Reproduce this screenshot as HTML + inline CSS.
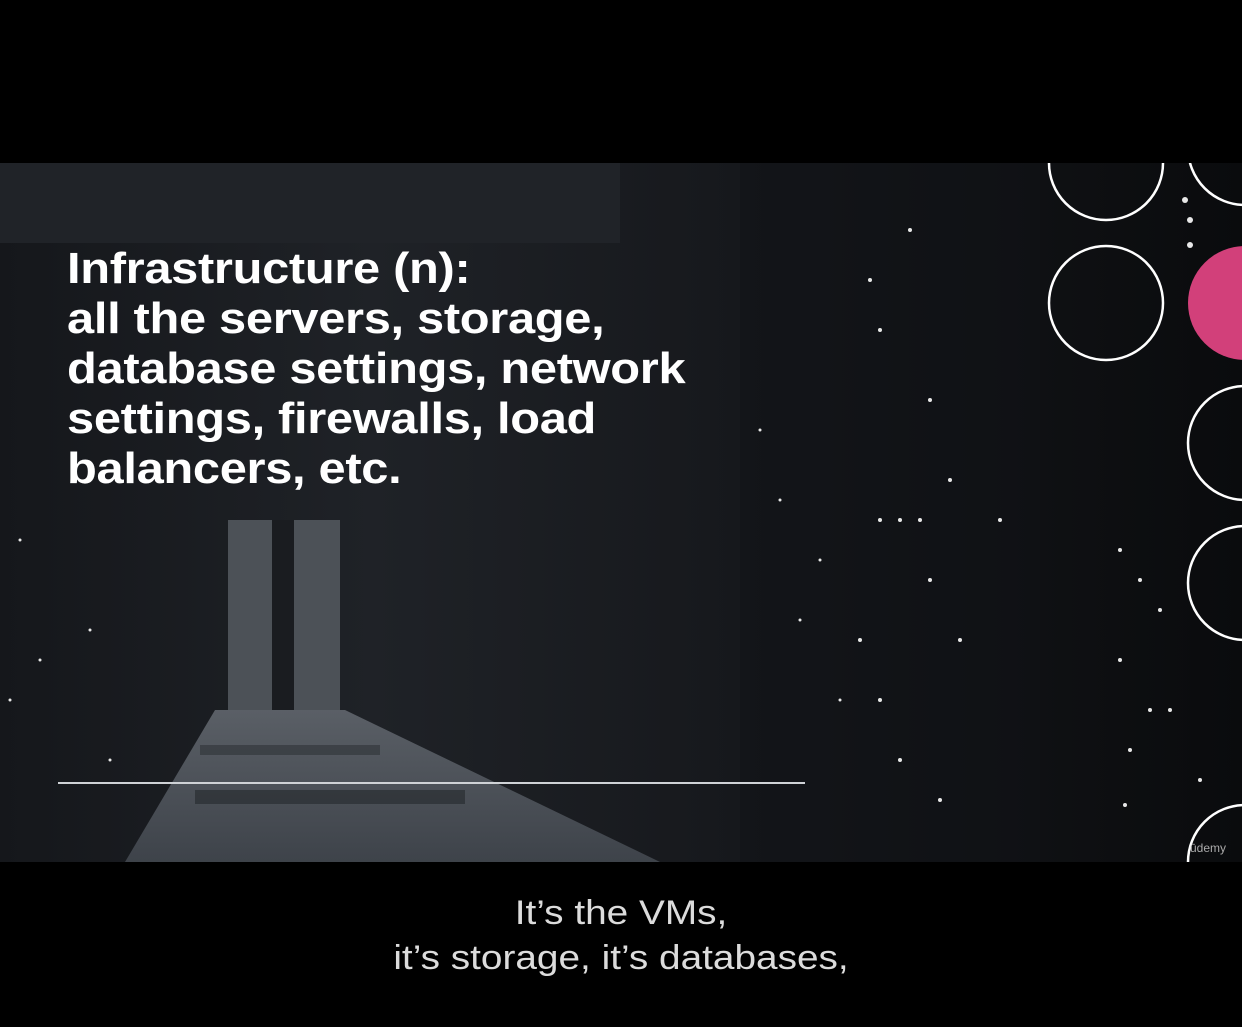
<!DOCTYPE html>
<html><head><style>
html,body{margin:0;padding:0;background:#000;}
body{width:1242px;height:1027px;position:relative;overflow:hidden;font-family:"Liberation Sans",sans-serif;}
.t{position:absolute;left:67px;top:244px;color:#fff;font-weight:bold;font-size:44px;line-height:50px;letter-spacing:-0.3px;white-space:nowrap;transform:scaleX(1.11);transform-origin:0 0;}
.sub{position:absolute;left:0;width:1242px;text-align:center;color:#dcdcdc;font-size:34px;line-height:45px;top:891px;transform:scaleX(1.14);transform-origin:621px 0;}
</style></head><body>
<svg width="1242" height="1027" style="position:absolute;left:0;top:0">
<defs>
<linearGradient id="bg" x1="0" x2="1" y1="0" y2="0">
<stop offset="0" stop-color="#15171b"/><stop offset="0.3" stop-color="#1f2227"/><stop offset="0.6" stop-color="#16181c"/><stop offset="1" stop-color="#0a0b0d"/>
</linearGradient>
<linearGradient id="fl" x1="0" x2="0" y1="0" y2="1">
<stop offset="0" stop-color="#5a5f66"/><stop offset="1" stop-color="#3e434a"/>
</linearGradient>
<clipPath id="c"><rect x="0" y="163" width="1242" height="699"/></clipPath>
</defs>
<rect x="0" y="163" width="1242" height="699" fill="url(#bg)"/>
<g clip-path="url(#c)">
<rect x="0" y="163" width="620" height="80" fill="#202328"/>
<rect x="228" y="520" width="112" height="190" fill="#4c5157"/>
<rect x="272" y="520" width="22" height="190" fill="#1a1c20"/>
<polygon points="215,710 345,710 660,862 125,862" fill="url(#fl)"/>
<rect x="195" y="790" width="270" height="14" fill="#2a2d32" opacity="0.7"/>
<rect x="200" y="745" width="180" height="10" fill="#2f3237" opacity="0.6"/>
<rect x="740" y="163" width="300" height="699" fill="#101215" opacity="0.5"/>
<g fill="#e8e8e8">
<circle cx="870" cy="280" r="2"/><circle cx="880" cy="330" r="2"/><circle cx="910" cy="230" r="2"/><circle cx="930" cy="400" r="2"/><circle cx="950" cy="480" r="2"/>
<circle cx="880" cy="520" r="2"/><circle cx="900" cy="520" r="2"/><circle cx="920" cy="520" r="2"/><circle cx="930" cy="580" r="2"/><circle cx="960" cy="640" r="2"/>
<circle cx="880" cy="700" r="2"/><circle cx="900" cy="760" r="2"/><circle cx="940" cy="800" r="2"/><circle cx="860" cy="640" r="2"/><circle cx="1000" cy="520" r="2"/>
<circle cx="1120" cy="550" r="2"/><circle cx="1140" cy="580" r="2"/><circle cx="1160" cy="610" r="2"/><circle cx="1120" cy="660" r="2"/><circle cx="1150" cy="710" r="2"/><circle cx="1170" cy="710" r="2"/>
<circle cx="1130" cy="750" r="2"/><circle cx="1200" cy="780" r="2"/><circle cx="1125" cy="805" r="2"/><circle cx="1190" cy="220" r="3"/><circle cx="1185" cy="200" r="3"/><circle cx="1190" cy="245" r="3"/>
<circle cx="760" cy="430" r="1.5"/><circle cx="780" cy="500" r="1.5"/><circle cx="820" cy="560" r="1.5"/><circle cx="800" cy="620" r="1.5"/><circle cx="840" cy="700" r="1.5"/>
<circle cx="20" cy="540" r="1.5"/><circle cx="40" cy="660" r="1.5"/><circle cx="10" cy="700" r="1.5"/><circle cx="90" cy="630" r="1.5"/><circle cx="110" cy="760" r="1.5"/>
</g>
<g fill="none" stroke="#fff" stroke-width="2.5">
<circle cx="1106" cy="163" r="57"/><circle cx="1106" cy="303" r="57"/>
<circle cx="1245" cy="148" r="57"/><circle cx="1245" cy="443" r="57"/><circle cx="1245" cy="583" r="57"/><circle cx="1245" cy="862" r="57"/>
</g>
<circle cx="1245" cy="303" r="57" fill="#d2407a"/>
</g>
<line x1="58" y1="783" x2="805" y2="783" stroke="#cfd2d6" stroke-width="2"/>
<text x="1190" y="852" fill="#aaa" font-size="12" font-family="Liberation Sans">ūdemy</text>
</svg>
<div class="t">Infrastructure (n):<br>all the servers, storage,<br>database settings, network<br>settings, firewalls, load<br>balancers, etc.</div>
<div class="sub">It’s the VMs,<br>it’s storage, it’s databases,</div>
</body></html>
